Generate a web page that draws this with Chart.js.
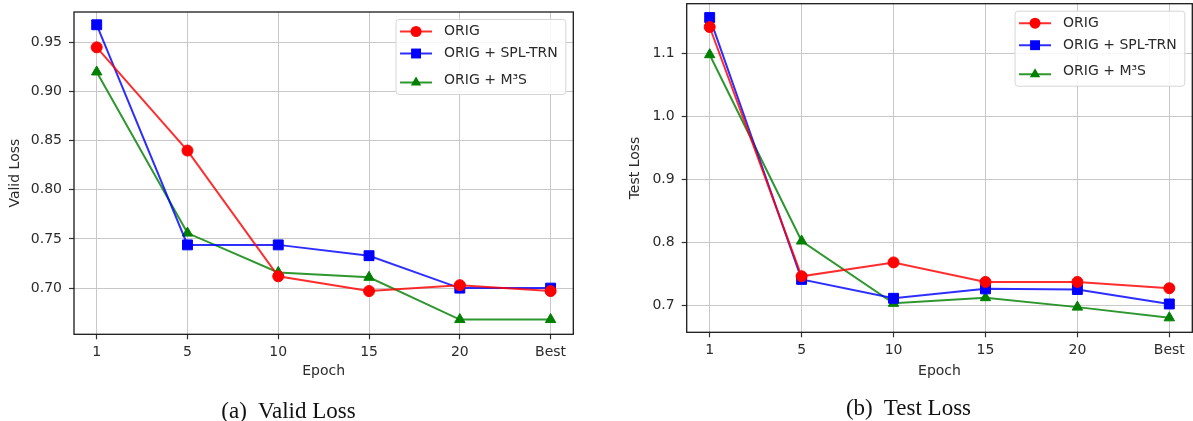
<!DOCTYPE html>
<html>
<head>
<meta charset="utf-8">
<script src="https://cdn.jsdelivr.net/npm/chart.js@4.4.1/dist/chart.umd.min.js"></script>
<style>
  html, body { margin: 0; padding: 0; background: #fff; overflow: hidden; }
  #page { position: relative; width: 1193px; height: 421px; }
  canvas { position: absolute; top: 0; }
  #validChart { left: 0; }
  #testChart { left: 600px; }
  .cap { position: absolute; font-family: "Liberation Serif", "Times New Roman", serif; font-size: 23px;
         line-height: 23px; color: #111; text-align: center; white-space: pre; }
</style>
</head>
<body>
<div id="page">
  <canvas id="validChart" width="600" height="421"></canvas>
  <canvas id="testChart" width="593" height="421"></canvas>
  <div class="cap" id="capA" style="left:0; width:577px; top:399px;">(a)  Valid Loss</div>
  <div class="cap" id="capB" style="left:617px; width:583px; top:396px;">(b)  Test Loss</div>
</div>
<script>
// Datos
const epochLabels = ["1", "5", "10", "15", "20", "Best"];
const seriesNames = ["ORIG", "ORIG + SPL-TRN", "ORIG + M\u00B3S"];

const validOrig = [0.945, 0.840, 0.712, 0.697, 0.703, 0.697];
const validSpl  = [0.968, 0.744, 0.744, 0.733, 0.700, 0.700];
const validM3s  = [0.920, 0.756, 0.716, 0.711, 0.668, 0.668];

const testOrig = [1.142, 0.746, 0.768, 0.737, 0.737, 0.727];
const testSpl  = [1.157, 0.741, 0.711, 0.726, 0.725, 0.702];
const testM3s  = [1.098, 0.802, 0.703, 0.712, 0.697, 0.680];

const validTicks = [0.70, 0.75, 0.80, 0.85, 0.90, 0.95];
const testTicks  = [0.7, 0.8, 0.9, 1.0, 1.1];

(function () {
  "use strict";

  const FONT = "'DejaVu Sans', sans-serif";
  const TEXT = "#2b2b2b";
  const GRID = "#c8c8c8";
  const STYLES = [
    { color: "#ff0000", line: "rgba(255,0,0,0.82)", point: "circle", r: 5.5 },
    { color: "#0000ff", line: "rgba(0,0,255,0.82)", point: "rect", r: 7 },
    { color: "#008000", line: "rgba(0,128,0,0.82)", point: "triangle", r: 6 },
  ];

  Chart.defaults.font.family = FONT;
  Chart.defaults.font.size = 14;
  Chart.defaults.color = TEXT;
  Chart.defaults.animation = false;

  const toPts = (arr) => arr.map((v, i) => ({ x: i, y: v }));

  function marker(ctx, kind, x, y, r, color) {
    ctx.fillStyle = color;
    ctx.beginPath();
    if (kind === "circle") ctx.arc(x, y, r, 0, Math.PI * 2);
    else if (kind === "rect") { const s = r * Math.SQRT1_2; ctx.rect(x - s, y - s, 2 * s, 2 * s); }
    else {
      ctx.moveTo(x, y - r);
      ctx.lineTo(x + r * 0.866, y + r * 0.5);
      ctx.lineTo(x - r * 0.866, y + r * 0.5);
      ctx.closePath();
    }
    ctx.fill();
  }

  // Marco del área de datos + leyenda estilo matplotlib arriba a la derecha.
  const frameLegend = {
    id: "frameLegend",
    afterDraw(chart) {
      const { ctx, chartArea: a } = chart;
      ctx.save();
      ctx.strokeStyle = "#1a1a1a";
      ctx.lineWidth = 1.3;
      ctx.strokeRect(a.left, a.top, a.right - a.left, a.bottom - a.top);

      ctx.font = "14px " + FONT;
      const tw = Math.max(...seriesNames.map((n) => ctx.measureText(n).width));
      const w = 48 + tw + 8, h = 75;
      const bx = a.right - 7.5 - w, by = a.top + 7.5;
      ctx.fillStyle = "rgba(255,255,255,0.85)";
      ctx.strokeStyle = "#d6d6d6";
      ctx.lineWidth = 1;
      ctx.beginPath();
      ctx.roundRect(bx, by, w, h, 3);
      ctx.fill(); ctx.stroke();

      const rowsY = [12, 34, 60.5];
      chart.data.datasets.forEach((ds, i) => {
        const st = STYLES[i];
        const ly = by + rowsY[i] + (i === 2 ? 2.5 : 0);
        ctx.strokeStyle = st.line;
        ctx.lineWidth = 2;
        ctx.beginPath(); ctx.moveTo(bx + 4, ly); ctx.lineTo(bx + 36, ly); ctx.stroke();
        marker(ctx, st.point, bx + 20, ly, st.r, st.color);
        ctx.fillStyle = TEXT;
        ctx.textBaseline = "middle";
        ctx.fillText(ds.label, bx + 48, by + rowsY[i]);
      });
      ctx.restore();
    },
  };

  function build(id, o) {
    const datasets = o.series.map((s, i) => ({
      label: seriesNames[i], data: toPts(s),
      borderColor: STYLES[i].line, borderWidth: 2,
      pointStyle: STYLES[i].point, pointRadius: STYLES[i].r,
      pointBackgroundColor: STYLES[i].color, pointBorderColor: STYLES[i].color, pointBorderWidth: 1,
      tension: 0, clip: 8,
    }));
    return new Chart(document.getElementById(id), {
      type: "line",
      data: { datasets },
      plugins: [frameLegend],
      options: {
        responsive: false,
        layout: { autoPadding: false, padding: { left: 0, top: o.padTop, right: o.padRight, bottom: 0 } },
        plugins: { legend: { display: false }, tooltip: { enabled: false } },
        scales: {
          x: {
            type: "linear", min: -0.25, max: 5.25,
            afterBuildTicks: (sc) => { sc.ticks = epochLabels.map((_, i) => ({ value: i })); },
            afterFit: (sc) => { sc.height = o.xHeight; sc.paddingLeft = 0; sc.paddingRight = 0; },
            ticks: { color: TEXT, padding: 5, maxRotation: 0, callback: (v) => epochLabels[Math.round(v)] },
            grid: { color: GRID, lineWidth: 1, tickColor: "#333", tickLength: 5, tickWidth: 1.2 },
            border: { display: false },
            title: { display: true, text: "Epoch", color: TEXT, padding: { top: 0, bottom: o.xTitlePad } },
          },
          y: {
            min: o.yMin, max: o.yMax,
            afterBuildTicks: (sc) => { sc.ticks = o.ticks.map((v) => ({ value: v })); },
            afterFit: (sc) => { sc.width = o.yWidth; sc.paddingTop = 0; sc.paddingBottom = 0; },
            ticks: { color: TEXT, padding: 7, callback: (v) => v.toFixed(o.dec) },
            grid: { color: GRID, lineWidth: 1, tickColor: "#333", tickLength: 5, tickWidth: 1.2 },
            border: { display: false },
            title: { display: true, text: o.yTitle, color: TEXT, padding: { top: o.yTitlePad, bottom: 0 } },
          },
        },
      },
    });
  }

  build("validChart", {
    series: [validOrig, validSpl, validM3s], ticks: validTicks, dec: 2,
    yMin: 0.653, yMax: 0.981, yTitle: "Valid Loss",
    padTop: 12, padRight: 26.7, yWidth: 74, xHeight: 86.7, xTitlePad: 41, yTitlePad: 7.4,
  });
  build("testChart", {
    series: [testOrig, testSpl, testM3s], ticks: testTicks, dec: 1,
    yMin: 0.657, yMax: 1.179, yTitle: "Test Loss",
    padTop: 3.7, padRight: 0.7, yWidth: 86.7, xHeight: 88.7, xTitlePad: 41, yTitlePad: 27.4,
  });
})();
</script>
</body>
</html>
